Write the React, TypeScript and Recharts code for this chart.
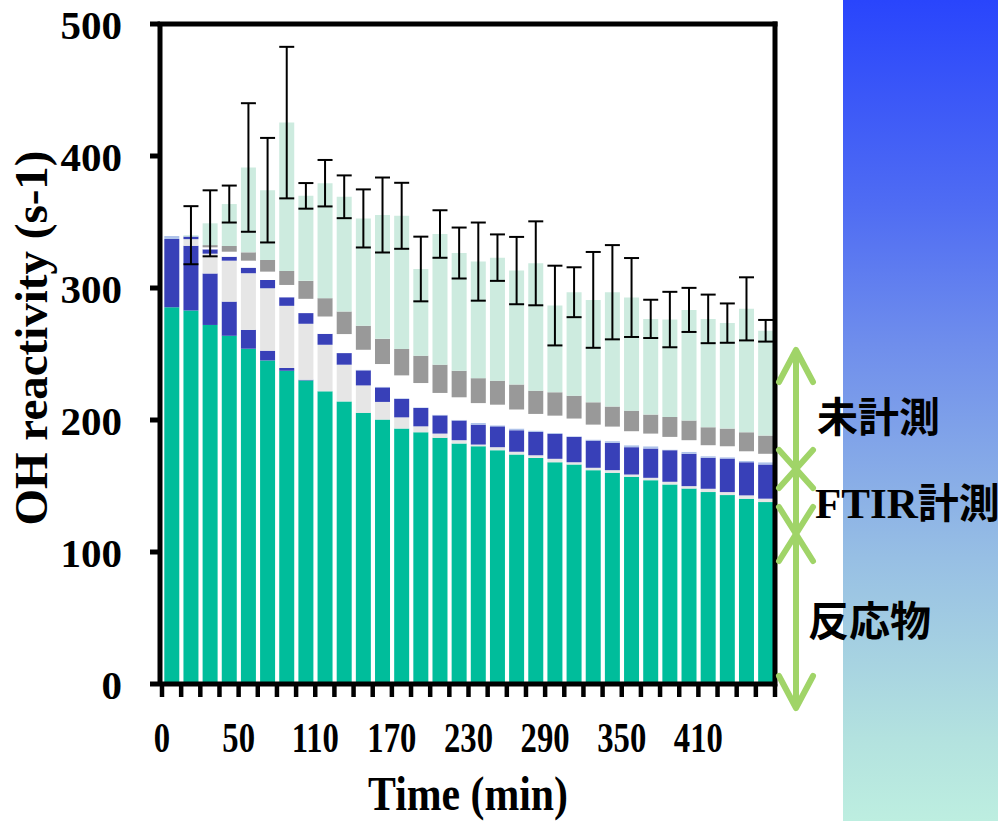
import React from 'react';
import { ComposedChart, Bar, Line, XAxis, YAxis, ErrorBar } from 'recharts';

// sampling times (min), one per bar
const times = [0, 5, 20, 35, 50, 65, 80, 95, 110, 125, 140, 155, 170, 185, 200, 215, 230, 245, 260, 275, 290, 305, 320, 335, 350, 365, 380, 395, 410, 425, 440, 455];
const labeledTimes = [0, 50, 110, 170, 230, 290, 350, 410];
const yTicks = [0, 100, 200, 300, 400, 500];

// stacked layers, bottom to top (s-1)
const reactant = [285.5, 283, 272, 263.8, 254, 245.1, 237.3, 230, 221.7, 214.1, 205.4, 200.3, 193.5, 190.7, 186.5, 182.2, 180.1, 177.1, 173.8, 171.3, 168, 166.3, 162, 160, 157, 154.4, 151.2, 148.1, 145.4, 143.1, 140.4, 137.8];
const ftirA = [51.6, 49, 39, 25.9, 14.3, 7.4, 2.1, 0.5, 0, 0, 0, 0, 0, 0, 0, 0, 0, 0, 0, 0, 0, 0, 0, 0, 0, 0, 0, 0, 0, 0, 0, 0];
const lightGray = [0, 5, 15, 31, 42.9, 47.3, 47.1, 42.4, 35.3, 27.8, 20.8, 13.4, 8.5, 4.5, 3.2, 2.5, 1.3, 2.3, 2.1, 2, 2.6, 1.7, 1.8, 2, 1.7, 1.8, 2, 1.8, 2.5, 2.3, 2.5, 2.6];
const ftirB = [0, 2, 3.3, 3, 4.2, 6.3, 6.5, 8.1, 8.3, 8.8, 11.4, 11, 14, 13.9, 13.8, 14.9, 15.1, 15.8, 16.3, 17.7, 18.9, 19.2, 20.6, 20.7, 20.7, 22.2, 23.9, 24.5, 23.5, 25.4, 25.1, 25.9];
const minor = [2.3, 0, 0, 0, 0, 0, 0, 0, 0, 0, 0.5, 0.5, 0.5, 0.5, 0.5, 0.5, 1.3, 0.8, 1.3, 1, 0.7, 0.5, 0.8, 1.3, 1.5, 1.7, 0.5, 1.5, 1.2, 1, 1, 1.7];
const gap = [0, 0, 1.5, 3.8, 5.3, 6.3, 9.3, 10.8, 13.1, 14.4, 15.1, 17.2, 17.3, 18.4, 16.5, 17.1, 15, 15.6, 14.4, 12.6, 13.1, 13.4, 11.3, 11, 10.6, 9.6, 9.6, 8.8, 8.3, 8.3, 7.3, 6.4];
const grayPart = [0, 0, 1.7, 4.3, 6.3, 8.8, 10.6, 13.6, 13.9, 17.1, 18.2, 19.1, 20, 20.7, 21.4, 20.1, 18.9, 18.2, 18.9, 17.6, 17.7, 17.3, 16.9, 15.2, 15.6, 14.4, 15.1, 14.9, 13.6, 13.4, 14.4, 13.8];
const unmeasured = [0, 1, 16.5, 31.8, 64.3, 52.9, 112.4, 64.4, 87.1, 86.9, 81.3, 93.8, 100.9, 65.7, 99, 89.2, 88.3, 93.2, 86.4, 96.5, 65.7, 78.4, 77.6, 86.6, 85.7, 72.5, 73.8, 83.8, 82.1, 79.9, 93.5, 79.4];
const totalErr = [0, 22, 25, 14, 48.7, 39.6, 57.4, 9.7, 17.6, 16.2, 22, 28.4, 25, 24.5, 18, 19.3, 29.6, 17.6, 25.5, 31.8, 30.2, 18.9, 36.3, 35.7, 29.9, 14.5, 21, 16.7, 18.4, 14.9, 23.9, 8.2];

const data = times.map((t, i) => ({
  time: t,
  reactant: reactant[i],
  ftirA: ftirA[i],
  lightGray: lightGray[i],
  ftirB: ftirB[i],
  minor: minor[i],
  gap: gap[i],
  grayPart: grayPart[i],
  unmeasured: unmeasured[i],
  err: totalErr[i],
}));

const W = 1000;
const H = 821;
const PLOT_LEFT = 160;
const PLOT_RIGHT = 775;
const PAD_LEFT = 2;
const BAND = (PLOT_RIGHT - PLOT_LEFT - PAD_LEFT) / times.length;
const SERIF = '"Liberation Serif", "Times New Roman", serif';
const CJK = '"Noto Sans CJK JP", "Noto Sans", sans-serif';
const GREEN = '#a0d468';
const frameLine = { stroke: '#000', strokeWidth: 5, strokeLinecap: 'square' as const };

const XTick = (props: any) => {
  const { x, y, payload, index } = props;
  const left = x - BAND / 2;
  const last = index === times.length - 1;
  return (
    <g>
      <line x1={left} x2={left} y1={y} y2={y + 13} stroke="#000" strokeWidth={4.5} />
      {last && <line x1={left + BAND} x2={left + BAND} y1={y} y2={y + 13} stroke="#000" strokeWidth={4.5} />}
      {labeledTimes.includes(payload.value) && (
        <text
          transform={`translate(${left} ${y + 68}) scale(0.76 1)`}
          textAnchor="middle"
          fontFamily={SERIF}
          fontWeight="bold"
          fontSize={43}
          fill="#000"
        >
          {payload.value}
        </text>
      )}
    </g>
  );
};

const YTick = (props: any) => {
  const { x, y, payload } = props;
  return (
    <text x={x - 28} y={y + 15} textAnchor="end" fontFamily={SERIF} fontWeight="bold" fontSize={41} fill="#000">
      {payload.value}
    </text>
  );
};

// double-headed arrow segment pieces
const Chevron = ({ y, dir, h }: { y: number; dir: 1 | -1; h: number }) => (
  <polyline
    points={`${796 - 17},${y + dir * h} 796,${y} ${796 + 17},${y + dir * h}`}
    fill="none"
    stroke={GREEN}
    strokeWidth={6}
    strokeLinecap="round"
    strokeLinejoin="round"
  />
);

const App: React.FC = () => {
  return (
    <div style={{ position: 'absolute', left: 0, top: 0, width: W, height: H, background: '#fff' }}>
      <div
        style={{
          position: 'absolute',
          left: 843,
          top: 0,
          width: 155,
          height: H,
          background: 'linear-gradient(to bottom, #2945fc 0%, #4f6cf3 25%, #6f8eec 42%, #97bfe4 68%, #b3e2df 90%, #bdeee0 100%)',
        }}
      />
      <div style={{ position: 'absolute', left: 0, top: 0 }}>
        <ComposedChart
          width={W}
          height={H}
          data={data}
          margin={{ top: 23, right: W - PLOT_RIGHT - 1, bottom: 0, left: 0 }}
          barCategoryGap="12%"
        >
          <XAxis
            dataKey="time"
            height={137}
            interval={0}
            padding={{ left: PAD_LEFT, right: 0 }}
            tickSize={0}
            tickMargin={0}
            tickLine={false}
            axisLine={{ stroke: '#000', strokeWidth: 5 }}
            tick={<XTick />}
          />
          <XAxis
            xAxisId="top"
            dataKey="time"
            orientation="top"
            height={1}
            tick={false}
            tickLine={false}
            axisLine={frameLine}
          />
          <YAxis
            width={PLOT_LEFT}
            domain={[0, 500]}
            ticks={yTicks}
            interval={0}
            tickSize={10}
            tickMargin={0}
            tickLine={{ stroke: '#000', strokeWidth: 5 }}
            axisLine={{ stroke: '#000', strokeWidth: 5 }}
            tick={<YTick />}
          />
          <YAxis
            yAxisId="right"
            orientation="right"
            width={1}
            domain={[0, 500]}
            tick={false}
            tickLine={false}
            axisLine={frameLine}
          />
          <Bar dataKey="reactant" stackId="a" fill="#00bd9b" isAnimationActive={false} />
          <Bar dataKey="ftirA" stackId="a" fill="#3840b8" isAnimationActive={false} />
          <Bar dataKey="lightGray" stackId="a" fill="#e6e6e6" isAnimationActive={false} />
          <Bar dataKey="ftirB" stackId="a" fill="#3840b8" isAnimationActive={false} />
          <Bar dataKey="minor" stackId="a" fill="#afc3ea" isAnimationActive={false} />
          <Bar dataKey="gap" stackId="a" fill="#ffffff" isAnimationActive={false} />
          <Bar dataKey="grayPart" stackId="a" fill="#999999" isAnimationActive={false} />
          <Bar dataKey="unmeasured" stackId="a" fill="#cdebdf" isAnimationActive={false}>
            <ErrorBar dataKey="err" direction="y" width={7.5} stroke="#000" strokeWidth={2} />
          </Bar>
          {/* invisible series so the top/right frame axes are drawn */}
          <Line
            dataKey="reactant"
            xAxisId="top"
            yAxisId="right"
            stroke="none"
            dot={false}
            activeDot={false}
            legendType="none"
            isAnimationActive={false}
          />
        </ComposedChart>
      </div>
      <svg width={W} height={H} style={{ position: 'absolute', left: 0, top: 0, pointerEvents: 'none' }}>
        <text
          transform="translate(47 338) rotate(-90)"
          textAnchor="middle"
          fontFamily={SERIF}
          fontWeight="bold"
          fontSize={47}
          fill="#000"
        >
          OH reactivity (s-1)
        </text>
        <text
          transform="translate(468 810) scale(0.87 1)"
          textAnchor="middle"
          fontFamily={SERIF}
          fontWeight="bold"
          fontSize={48}
          fill="#000"
        >
          Time (min)
        </text>
        <line x1={796} x2={796} y1={350} y2={708} stroke={GREEN} strokeWidth={6} />
        <Chevron y={350} dir={1} h={32} />
        <Chevron y={469} dir={-1} h={19} />
        <Chevron y={469} dir={1} h={19} />
        <Chevron y={534} dir={-1} h={27} />
        <Chevron y={534} dir={1} h={27} />
        <Chevron y={708} dir={-1} h={32} />
        <text x={817} y={432} fontFamily={CJK} fontWeight="bold" fontSize={41} fill="#000">未計測</text>
        <text x={815} y={518} fontSize={43} fill="#000">
          <tspan fontFamily={SERIF} fontWeight="bold">FTIR</tspan>
          <tspan fontFamily={CJK} fontWeight="bold" fontSize={41}>計測</tspan>
        </text>
        <text x={808} y={636} fontFamily={CJK} fontWeight="bold" fontSize={41} fill="#000">反応物</text>
      </svg>
    </div>
  );
};

export default App;
